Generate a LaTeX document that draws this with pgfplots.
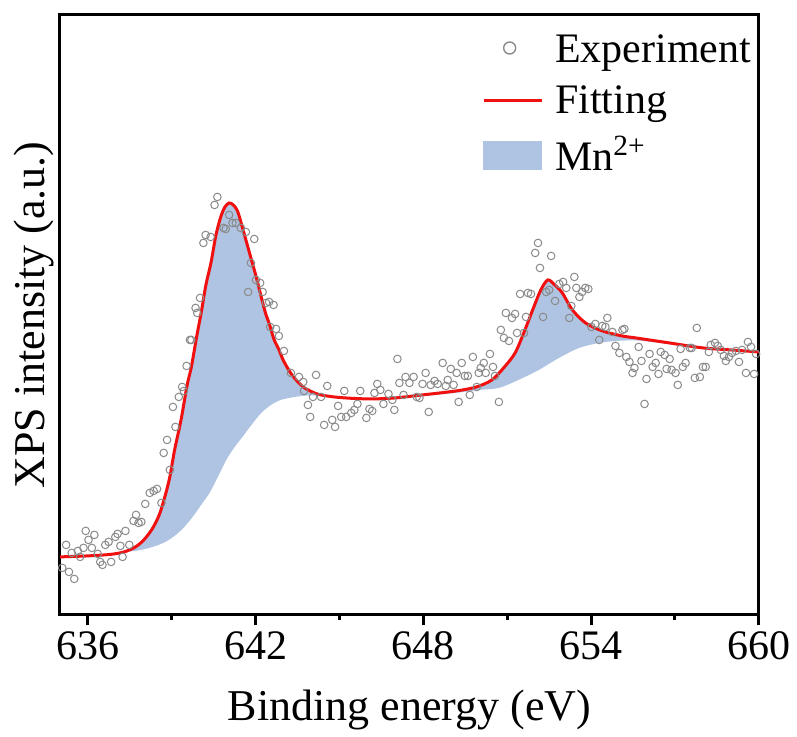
\documentclass[border=0pt]{standalone}
\usepackage{pgfplots}
\pgfplotsset{compat=1.18}
\usepgfplotslibrary{fillbetween}
\usepackage{fontspec}
\setmainfont{Liberation Serif}
\definecolor{mnblue}{HTML}{AFC4E2}
\definecolor{fitred}{HTML}{F01010}
\definecolor{ptgray}{HTML}{8A8A8A}

% experimental points (x in eV, intensity in arb. units)
\pgfplotstableread{
x y
635.08 47
635.22 70
635.32 43
635.42 62
635.51 36
635.64 64
635.72 58
635.84 67
635.92 84
636.02 75
636.14 67
636.23 80
636.35 61
636.44 53
636.52 50
636.62 70
636.74 73
636.83 53
636.98 78
637.06 81
637.16 69
637.24 58
637.34 84
637.48 70
637.63 94
637.72 100
637.81 92
637.91 93
638.05 111
638.21 122
638.35 124
638.47 126
638.63 112
638.71 162
638.83 175
638.93 145
639.04 208
639.13 188
639.25 218
639.37 228
639.43 224
639.53 249
639.65 275
639.70 275
639.85 307
639.91 302
640.01 317
640.13 372
640.21 380
640.39 378
640.53 410
640.63 418
640.85 387
640.93 386
641.05 400
641.17 392
641.29 392
641.47 387
641.65 383
641.95 376
641.83 352
641.73 323
642.01 335
642.16 332
642.25 323
642.37 312
642.48 313
642.64 310
642.52 288
642.73 286
642.83 279
643.01 264
643.26 242
643.55 238
643.70 233
643.73 224
643.87 210
643.95 198
644.05 218
644.16 240
644.34 218
644.45 190
644.56 229
644.74 195
644.84 188
644.95 209
645.06 198
645.17 224
645.24 198
645.42 202
645.53 205
645.64 211
645.74 224
645.96 197
646.07 206
646.17 204
646.25 222
646.35 231
646.46 225
646.57 211
646.75 221
646.89 215
646.96 205
647.07 256
647.14 232
647.29 220
647.36 238
647.50 232
647.65 238
647.76 218
647.86 217
647.97 231
648.08 242
648.19 203
648.26 230
648.40 234
648.51 231
648.69 252
648.80 229
648.87 235
648.98 246
649.08 230
649.19 242
649.26 213
649.37 252
649.48 239
649.59 239
649.66 220
649.77 258
649.91 228
649.98 242
650.05 247
650.16 252
650.23 242
650.38 261
650.49 248
650.56 239
650.70 213
650.77 285
650.88 277
650.95 302
651.06 274
651.17 297
651.28 301
651.35 282
651.46 321
651.60 282
651.67 298
651.74 322
651.85 321
652.00 362
652.10 372
652.17 347
652.28 298
652.39 323
652.50 325
652.57 359
652.71 314
652.86 331
653.00 333
653.11 327
653.22 297
653.29 309
653.40 338
653.47 327
653.58 318
653.68 323
653.79 327
653.90 326
654.01 288
654.15 291
654.29 275
654.40 289
654.51 288
654.58 297
654.76 283
654.87 269
655.01 262
655.12 285
655.19 286
655.26 258
655.37 253
655.48 242
655.55 247
655.70 268
655.80 254
655.91 211
655.98 236
656.09 261
656.20 248
656.31 252
656.41 241
656.49 263
656.63 260
656.70 246
656.81 256
656.88 245
657.02 242
657.10 230
657.20 266
657.28 248
657.38 252
657.53 267
657.60 267
657.71 237
657.78 287
657.89 238
658.00 248
658.10 248
658.21 263
658.28 270
658.43 272
658.53 269
658.64 265
658.75 259
658.82 254
658.93 258
659.04 262
659.18 264
659.29 253
659.40 265
659.54 242
659.61 273
659.72 268
659.83 241
659.90 261
}\expdata

% fitted envelope
\pgfplotstableread{
x y
635.00 58
636.00 59
636.80 60.5
637.30 63
637.70 68
638.00 75
638.30 86
638.55 100
638.75 118
638.93 138
639.10 165
639.33 195
639.55 230
639.70 248
639.90 280
640.05 302
640.22 330
640.40 352
640.58 380
640.75 398
640.90 408
641.05 412
641.20 410
641.35 404
641.50 390
641.68 372
641.85 355
642.00 340
642.20 318
642.35 302
642.50 290
642.65 276
642.82 266
643.00 254
643.30 240
643.70 228
644.20 221
644.80 218
645.50 216.5
646.20 216
647.00 217
647.80 219.5
648.60 222
649.30 224.5
649.90 228
650.45 235
650.90 248
651.28 262
651.59 282
651.95 308
652.20 325
652.45 335
652.70 330
652.97 322
653.33 305
653.80 292
654.40 284
655.10 279
655.60 277
656.80 272
658.00 267
659.00 265
660.00 263
}\fitdata

% background under the Mn2+ component
\pgfplotstableread{
x y
635.00 58
636.00 59
636.80 60.5
637.30 63
637.70 64
638.20 67
638.70 72
639.10 79
639.45 88
639.80 100
640.05 110
640.35 122
640.63 137
640.95 155
641.25 168
641.50 177
641.85 190
642.20 202
642.55 210
642.90 215
643.40 218
643.90 219.5
644.50 219
644.80 218
645.50 216.5
646.20 216
647.00 217
647.80 218.5
648.60 220.5
649.30 222.5
650.00 225
650.70 227
651.40 235
652.13 245
652.85 257
653.57 267
654.28 272
654.90 274
655.60 274.5
656.30 272.5
657.00 270
658.00 266.5
659.00 264.5
660.00 263
}\bgdata

\begin{document}
\begin{tikzpicture}
\begin{axis}[
    name=ax,
    scale only axis,
    width=349.5pt, height=300pt,
    xmin=635, xmax=660,
    ymin=0, ymax=600,
    xtick={636,642,...,660},
    xticklabel={\rmfamily\pgfmathprintnumber[assume math mode=true, 1000 sep={}]{\tick}},
    minor x tick num=1,
    xtick pos=bottom,
    ytick=\empty,
    tick align=outside,
    major tick length=5pt,
    minor tick length=2.5pt,
    every tick/.style={black, line width=1.5pt},
    axis line style={black, line width=1.5pt},
    ticklabel style={font=\fontsize{21}{24}\selectfont},
    xlabel={Binding energy (eV)},
    ylabel={XPS intensity (a.u.)},
    xlabel style={font=\fontsize{22}{26}\selectfont, yshift=-8pt},
    every axis y label/.style={at={(axis description cs:0,0.5)}, anchor=south, rotate=90,
        inner sep=3pt, font=\fontsize{22}{26}\selectfont},
    legend style={draw=none, fill=none, at={(axis description cs:0.998,0.978)}, anchor=north east,
        font=\fontsize{21}{26}\selectfont, inner sep=1pt, row sep=6pt,
        /tikz/every odd column/.append style={column sep=4pt}},
    legend cell align=left,
]
\addlegendimage{legend image code/.code={\draw[ptgray, line width=0.7pt] (13pt,1pt) circle (3pt);}}
\addlegendentry{Experiment}
\addlegendimage{legend image code/.code={\draw[fitred, line width=1.5pt] (0pt,0pt) -- (29pt,0pt);}}
\addlegendentry{Fitting}
\addlegendimage{legend image code/.code={\fill[mnblue] (0pt,-7pt) rectangle (29pt,7pt);}}
\addlegendentry{Mn\textsuperscript{2+}}

\addplot[name path=fit, draw=none, smooth, tension=0.5, forget plot] table {\fitdata};
\addplot[name path=bg, draw=none, smooth, tension=0.5, forget plot] table {\bgdata};
\addplot[mnblue, forget plot] fill between[of=fit and bg];

\addplot[only marks, mark=o, mark size=1.9pt, mark options={ptgray, line width=0.5pt}, forget plot] table {\expdata};

\addplot[fitred, line width=1.5pt, smooth, tension=0.5, forget plot] table {\fitdata};
\end{axis}
\path ([shift={(-30pt,-58pt)}]ax.south west) rectangle ([shift={(19pt,7.5pt)}]ax.north east);
\end{tikzpicture}
\end{document}
